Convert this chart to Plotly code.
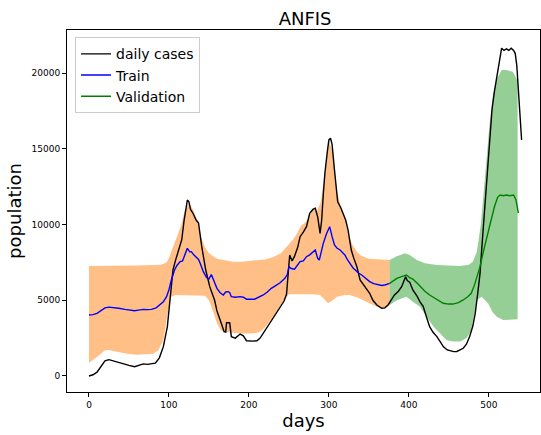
import plotly.graph_objects as go

# ---- daily cases (black) ----
case_days = [0, 5, 10, 15, 20, 25, 30, 37, 45, 50, 57, 62, 68, 73, 78, 83, 88, 93, 98, 102, 105, 108, 112, 116, 119, 121, 123, 125, 127, 130, 134, 137, 141, 146, 151, 157, 160, 164, 169, 171, 172, 176, 178, 183, 189, 193, 197, 205, 210, 214, 218, 222, 226, 230, 235, 240, 244, 247, 249, 251, 254, 257, 261, 264, 268, 272, 276, 280, 283, 286, 289, 291, 293, 295, 298, 300, 302, 304, 307, 311, 315, 318, 321, 324, 328, 331, 335, 339, 345, 351, 355, 360, 366, 370, 374, 378, 382, 387, 391, 394, 396, 398, 401, 405, 410, 414, 418, 422, 426, 430, 435, 440, 443, 448, 452, 456, 460, 464, 468, 472, 476, 480, 483, 486, 489, 492, 495, 498, 501, 504, 507, 510, 513, 516, 519, 522, 525, 528, 531, 533, 535, 537, 539, 541]
case_vals = [0, 80, 250, 600, 1000, 1080, 1000, 880, 800, 700, 615, 700, 800, 770, 790, 850, 1200, 1940, 3260, 5300, 7000, 7600, 8300, 9000, 10300, 11000, 11620, 11500, 11000, 10750, 10300, 10100, 8540, 7000, 5900, 5020, 4300, 3700, 2930, 2900, 3520, 3520, 2600, 2500, 2770, 2650, 2330, 2300, 2330, 2500, 2820, 3100, 3480, 3800, 4140, 4600, 4950, 5400, 6800, 7990, 7600, 7900, 8500, 9200, 9500, 9860, 10750, 11000, 11080, 10500, 9420, 10300, 12000, 13390, 14800, 15590, 15700, 15300, 13600, 11500, 11100, 10750, 10300, 9640, 8320, 7800, 7220, 6340, 5900, 5460, 5000, 4690, 4470, 4500, 4690, 5000, 5350, 5600, 5900, 6300, 6560, 6300, 6200, 5680, 5300, 4900, 4580, 3900, 3260, 2900, 2600, 2200, 1940, 1720, 1650, 1610, 1620, 1700, 1830, 2100, 2600, 3300, 4140, 5400, 6780, 9000, 11180, 13800, 16030, 17600, 18800, 19800, 20600, 21650, 21500, 21600, 21500, 21650, 21500, 21310, 20500, 18890, 17000, 15590]

# ---- Train prediction (blue) ----
train_days = [0, 5, 10, 15, 20, 25, 30, 37, 45, 50, 57, 62, 68, 73, 78, 84, 89, 93, 97, 100, 103, 107, 110, 114, 117, 120, 123, 126, 128, 131, 134, 137, 139, 143, 147, 150, 153, 156, 160, 164, 168, 171, 174, 176, 178, 183, 189, 193, 197, 207, 212, 218, 223, 228, 233, 239, 245, 248, 250, 253, 257, 260, 264, 268, 272, 276, 280, 283, 286, 288, 290, 293, 297, 301, 304, 307, 310, 314, 317, 320, 323, 326, 330, 333, 337, 341, 346, 351, 356, 362, 366, 370, 376]
train_vals = [4030, 4050, 4140, 4300, 4500, 4550, 4500, 4470, 4400, 4350, 4310, 4350, 4400, 4380, 4400, 4500, 4690, 4900, 5240, 5700, 6340, 7000, 7300, 7550, 7600, 7990, 8430, 8200, 8210, 8000, 7880, 7700, 7440, 6890, 6500, 6400, 6700, 6300, 5790, 5500, 5350, 5550, 5570, 5500, 5240, 5200, 5240, 5200, 5070, 5070, 5200, 5350, 5550, 5790, 5950, 6160, 6450, 6700, 7220, 7100, 7050, 7300, 7550, 7600, 7880, 8000, 8150, 8320, 7770, 7660, 8100, 8760, 9400, 9860, 9200, 8650, 8450, 8320, 8150, 7990, 7700, 7440, 7150, 7000, 6800, 6670, 6450, 6230, 6100, 6010, 5980, 6010, 6120]

# ---- Validation prediction (green) ----
val_days = [376, 380, 385, 390, 397, 401, 405, 410, 414, 420, 426, 435, 443, 450, 455, 462, 468, 474, 478, 482, 486, 489, 494, 499, 503, 507, 511, 514, 518, 522, 526, 531, 534, 537]
val_vals = [6120, 6250, 6450, 6550, 6670, 6500, 6400, 6150, 5900, 5600, 5350, 5050, 4800, 4750, 4750, 4850, 5020, 5250, 5460, 6000, 6700, 7220, 8400, 9420, 10400, 11180, 11800, 11950, 11900, 11950, 11900, 11950, 11620, 10750]

# ---- Train interval band (orange) ----
tr_up_days = [0, 30, 60, 90, 97, 100, 105, 110, 115, 120, 125, 130, 135, 140, 145, 150, 155, 160, 165, 170, 180, 190, 200, 210, 220, 230, 240, 245, 250, 255, 260, 265, 270, 275, 280, 285, 290, 295, 300, 305, 310, 315, 320, 325, 330, 335, 340, 350, 360, 370, 376]
tr_up_vals = [7270, 7270, 7290, 7350, 7500, 7800, 8500, 9200, 9900, 11000, 11400, 11000, 10300, 9200, 8500, 8100, 7900, 7750, 7700, 7650, 7550, 7550, 7600, 7650, 7700, 7850, 8100, 8400, 8700, 9000, 9400, 9900, 10100, 10500, 11000, 10900, 11500, 13600, 15500, 14800, 12200, 11200, 10400, 9200, 8600, 8200, 7950, 7750, 7700, 7650, 7660]
tr_lo_days = [0, 10, 20, 25, 30, 40, 50, 60, 70, 80, 87, 93, 97, 100, 103, 108, 115, 125, 135, 145, 150, 155, 160, 165, 170, 180, 190, 200, 210, 215, 220, 230, 240, 245, 250, 260, 270, 280, 289, 295, 299, 305, 310, 320, 326, 335, 343, 350, 360, 370, 376]
tr_lo_vals = [880, 1250, 1700, 1720, 1650, 1530, 1450, 1400, 1430, 1450, 1720, 2380, 3700, 4600, 5240, 5350, 5300, 5350, 5300, 5300, 5000, 4300, 3500, 3000, 2900, 2850, 2800, 2800, 2850, 2950, 3200, 3900, 4700, 5100, 5400, 5400, 5400, 5400, 5350, 5000, 4800, 5000, 5240, 5350, 5350, 5200, 5020, 4850, 4580, 4470, 4690]

# ---- Validation interval band (green) ----
va_up_days = [376, 385, 395, 401, 410, 420, 435, 450, 464, 475, 480, 485, 490, 495, 501, 505, 510, 516, 522, 530, 535, 536]
va_up_vals = [7660, 7900, 8100, 7990, 7660, 7450, 7330, 7280, 7270, 7350, 7550, 8200, 10000, 13000, 16690, 18500, 19600, 20210, 20210, 20100, 19550, 19500]
va_lo_days = [376, 385, 397, 405, 414, 422, 431, 443, 447, 455, 464, 472, 476, 478, 482, 485, 491, 499, 505, 510, 518, 536]
va_lo_vals = [4690, 5000, 5240, 4900, 4580, 3920, 3260, 2600, 2380, 2270, 2270, 2490, 2820, 3040, 4200, 5020, 5240, 4800, 4200, 3920, 3700, 3740]

x_ticks = [0, 100, 200, 300, 400, 500]
y_ticks = [0, 5000, 10000, 15000, 20000]

FONT = "DejaVu Sans"

fig = go.Figure()

fig.add_trace(go.Scatter(
    x=tr_up_days + tr_lo_days[::-1], y=tr_up_vals + tr_lo_vals[::-1],
    fill="toself", fillcolor="rgba(255,127,14,0.5)", line=dict(width=0),
    mode="lines", hoverinfo="skip", showlegend=False))
fig.add_trace(go.Scatter(
    x=va_up_days + va_lo_days[::-1], y=va_up_vals + va_lo_vals[::-1],
    fill="toself", fillcolor="rgba(44,160,44,0.5)", line=dict(width=0),
    mode="lines", hoverinfo="skip", showlegend=False))

fig.add_trace(go.Scatter(x=case_days, y=case_vals, mode="lines",
                         line=dict(color="black", width=1.4), name="daily cases"))
fig.add_trace(go.Scatter(x=train_days, y=train_vals, mode="lines",
                         line=dict(color="blue", width=1.4), name="Train"))
fig.add_trace(go.Scatter(x=val_days, y=val_vals, mode="lines",
                         line=dict(color="green", width=1.4), name="Validation"))

fig.update_layout(
    width=541, height=435,
    margin=dict(l=67, r=1, t=30, b=43),
    paper_bgcolor="white", plot_bgcolor="white",
    font=dict(family=FONT, color="black"),
    title=dict(text="ANFIS", x=0.564, xanchor="center", y=0.958, yanchor="middle",
               font=dict(size=18, family=FONT)),
    legend=dict(x=0.017, y=0.98, xanchor="left", yanchor="top",
                bgcolor="rgba(255,255,255,0.8)", bordercolor="#cccccc", borderwidth=1,
                font=dict(size=14, family=FONT), tracegroupgap=0),
    showlegend=True,
)
fig.update_xaxes(
    range=[-27.5, 564], tickvals=x_ticks, ticktext=[str(v) for v in x_ticks],
    automargin=False,
    showgrid=False, zeroline=False, showline=True, linecolor="black", linewidth=1,
    mirror=True, ticks="outside", ticklen=4, tickcolor="black",
    tickfont=dict(size=9, family=FONT),
    title=dict(text="days", font=dict(size=18, family=FONT), standoff=1),
)
fig.update_yaxes(
    range=[-1057, 22850], tickvals=y_ticks, ticktext=[str(v) for v in y_ticks],
    automargin=False,
    showgrid=False, zeroline=False, showline=True, linecolor="black", linewidth=1,
    mirror=True, ticks="outside", ticklen=4, tickcolor="black",
    tickfont=dict(size=9, family=FONT),
    title=dict(text="population", font=dict(size=18, family=FONT), standoff=5),
)

fig.write_html("out.html", config={"displayModeBar": False},
               post_script="document.body.style.margin='0';")
